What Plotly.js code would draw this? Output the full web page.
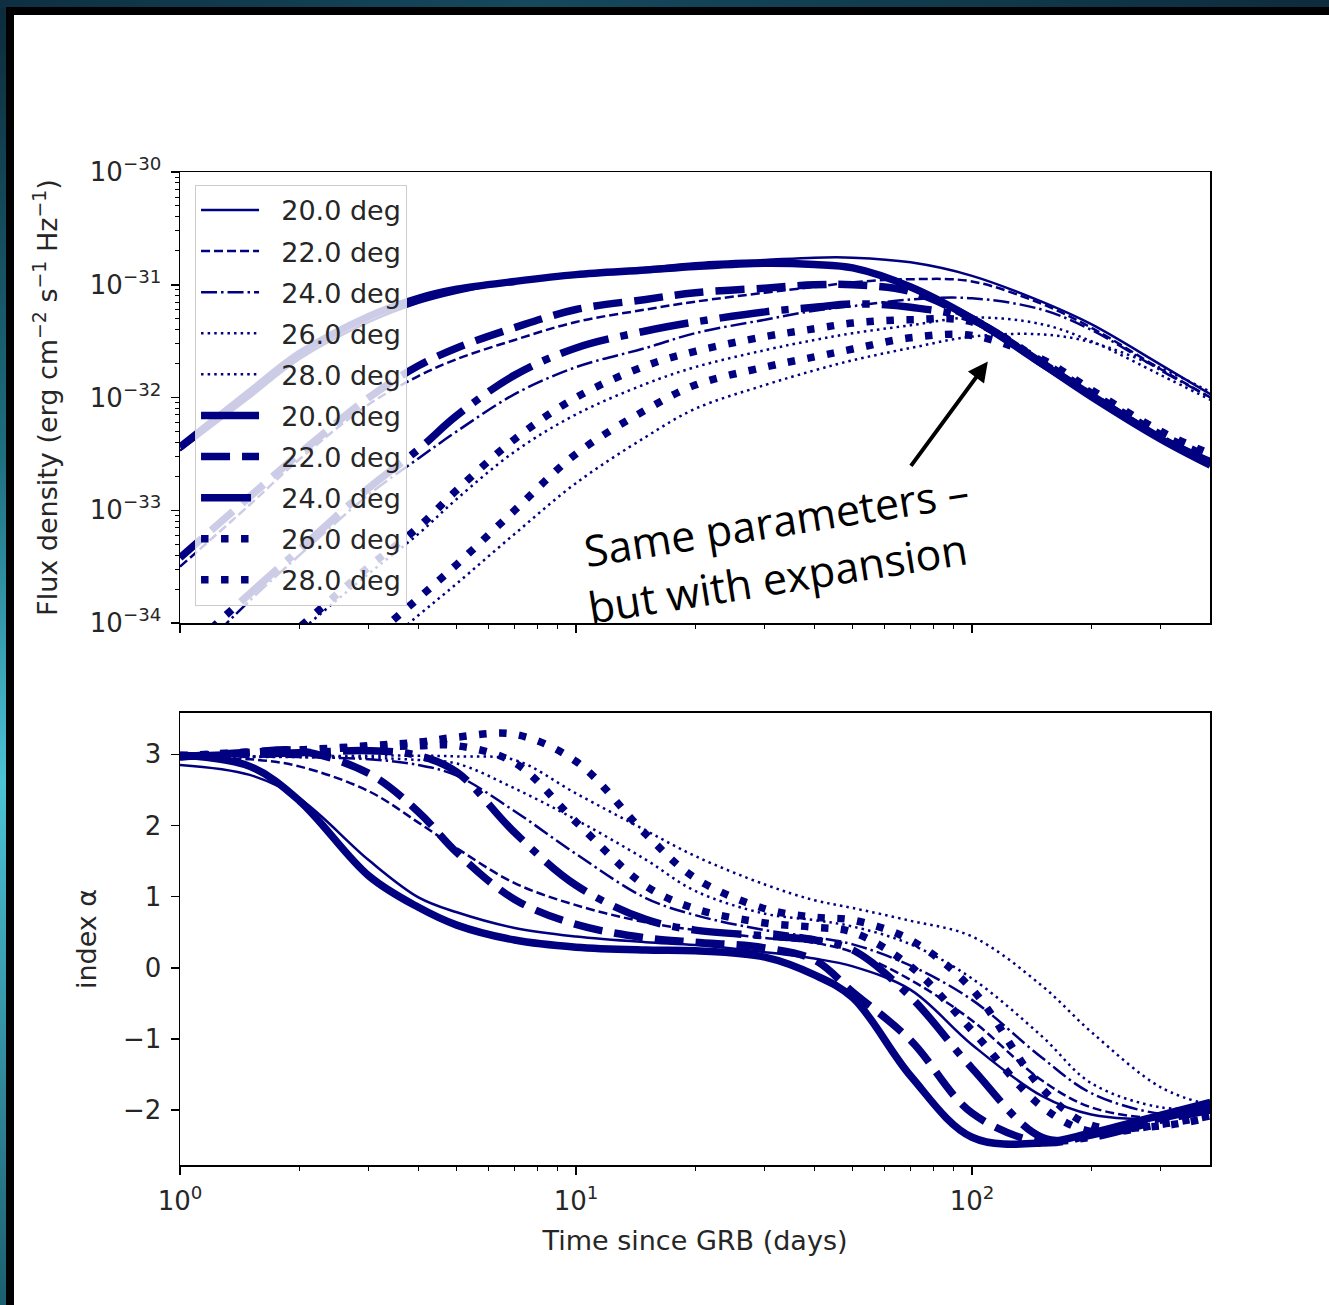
<!DOCTYPE html>
<html>
<head>
<meta charset="utf-8">
<script src="https://cdn.plot.ly/plotly-3.0.1.min.js"></script>
<style>
  html, body { margin: 0; padding: 0; width: 1329px; height: 1305px; overflow: hidden; }
  body { background: linear-gradient(180deg, #0c2a3a 0%, #1d6f80 35%, #4cc3d6 60%, #1b5f70 100%); position: relative; }
  #topstrip { position: absolute; left: 0; top: 0; width: 1329px; height: 8px; background: linear-gradient(90deg, #0e2f42, #15495e 40%, #0d2c3d 100%); }
  #frame { position: absolute; left: 6px; top: 7px; width: 1323px; height: 1298px; background: #000; }
  #chart { position: absolute; left: 14px; top: 15px; width: 1315px; height: 1290px; background: #fff; }
</style>
</head>
<body>
<div id="topstrip"></div>
<div id="frame"></div>
<div id="chart"></div>
<script>
// ---------------- data ----------------
const timeDays = [1, 1.5, 2, 3, 4, 5, 7, 10, 15, 20, 30, 40, 50, 70, 100, 150, 200, 300, 400];
const angleLabels = ['20.0 deg', '22.0 deg', '24.0 deg', '26.0 deg', '28.0 deg'];

// flux density (erg cm^-2 s^-1 Hz^-1), thin lines (no expansion)
const fluxThin20 = [3.39e-33, 1.00e-32, 2.19e-32, 4.68e-32, 6.92e-32, 8.51e-32, 1.07e-31, 1.26e-31, 1.41e-31, 1.55e-31, 1.66e-31, 1.74e-31, 1.74e-31, 1.58e-31, 1.20e-31, 7.08e-32, 4.47e-32, 1.95e-32, 1.07e-32];
const fluxThin22 = [3.16e-34, 1.12e-33, 2.82e-33, 8.71e-33, 1.55e-32, 2.19e-32, 3.24e-32, 4.68e-32, 6.03e-32, 7.08e-32, 8.51e-32, 9.55e-32, 1.05e-31, 1.12e-31, 1.07e-31, 6.76e-32, 4.17e-32, 1.78e-32, 1.00e-32];
const fluxThin24 = [3.80e-35, 1.58e-34, 3.98e-34, 1.38e-33, 2.88e-33, 5.01e-33, 1.07e-32, 1.86e-32, 2.75e-32, 3.72e-32, 4.90e-32, 5.89e-32, 6.46e-32, 7.41e-32, 7.59e-32, 6.03e-32, 3.98e-32, 1.74e-32, 1.00e-32];
const fluxThin26 = [1.00e-35, 3.39e-35, 8.32e-35, 2.75e-34, 6.17e-34, 1.26e-33, 3.31e-33, 7.08e-33, 1.32e-32, 1.86e-32, 2.63e-32, 3.24e-32, 3.72e-32, 4.37e-32, 5.13e-32, 4.47e-32, 3.16e-32, 1.58e-32, 9.55e-33];
const fluxThin28 = [1.95e-36, 6.46e-36, 1.51e-35, 5.01e-35, 1.17e-34, 2.24e-34, 6.17e-34, 1.74e-33, 4.47e-33, 7.94e-33, 1.29e-32, 1.74e-32, 2.14e-32, 2.75e-32, 3.47e-32, 3.63e-32, 3.09e-32, 1.82e-32, 1.12e-32];
// thick lines (with expansion)
const fluxThick20 = [3.63e-33, 1.12e-32, 2.45e-32, 5.25e-32, 7.59e-32, 9.12e-32, 1.07e-31, 1.23e-31, 1.35e-31, 1.45e-31, 1.55e-31, 1.51e-31, 1.41e-31, 9.55e-32, 5.01e-32, 2.00e-32, 1.02e-32, 4.27e-33, 2.51e-33];
const fluxThick22 = [3.80e-34, 1.32e-33, 3.16e-33, 1.00e-32, 1.91e-32, 2.75e-32, 4.17e-32, 6.03e-32, 7.41e-32, 8.51e-32, 9.33e-32, 1.00e-31, 1.00e-31, 8.71e-32, 5.01e-32, 2.04e-32, 1.05e-32, 4.37e-33, 2.63e-33];
const fluxThick24 = [5.01e-35, 1.82e-34, 4.47e-34, 1.58e-33, 3.47e-33, 6.92e-33, 1.58e-32, 2.75e-32, 3.89e-32, 4.68e-32, 5.75e-32, 6.31e-32, 6.76e-32, 6.31e-32, 4.90e-32, 2.00e-32, 1.05e-32, 4.37e-33, 2.69e-33];
const fluxThick26 = [1.12e-35, 3.80e-35, 9.12e-35, 3.16e-34, 7.08e-34, 1.51e-33, 4.27e-33, 1.00e-32, 1.91e-32, 2.57e-32, 3.47e-32, 4.07e-32, 4.57e-32, 4.90e-32, 4.68e-32, 2.09e-32, 1.10e-32, 4.68e-33, 2.95e-33];
const fluxThick28 = [2.63e-36, 8.71e-36, 2.00e-35, 6.92e-35, 1.66e-34, 3.31e-34, 1.00e-33, 3.16e-33, 7.76e-33, 1.29e-32, 1.86e-32, 2.29e-32, 2.69e-32, 3.39e-32, 3.55e-32, 2.19e-32, 1.17e-32, 5.01e-33, 3.16e-33];

// temporal index alpha
const alphaThin20 = [2.85, 2.71, 2.38, 1.51, 0.99, 0.78, 0.56, 0.44, 0.36, 0.32, 0.22, 0.13, 0.02, -0.31, -1.08, -1.80, -2.06, -2.10, -1.90];
const alphaThin22 = [2.94, 2.93, 2.83, 2.48, 2.04, 1.68, 1.19, 0.88, 0.64, 0.53, 0.42, 0.35, 0.22, -0.17, -0.74, -1.58, -1.96, -2.11, -2.00];
const alphaThin24 = [2.97, 2.97, 2.96, 2.93, 2.85, 2.70, 2.20, 1.60, 0.98, 0.74, 0.53, 0.43, 0.33, 0.03, -0.45, -1.26, -1.76, -2.05, -2.02];
const alphaThin26 = [2.96, 2.96, 2.96, 2.95, 2.92, 2.87, 2.52, 2.08, 1.52, 1.08, 0.76, 0.67, 0.58, 0.33, -0.15, -0.96, -1.62, -1.96, -1.96];
const alphaThin28 = [2.96, 2.97, 2.97, 2.98, 2.98, 2.97, 2.92, 2.45, 1.93, 1.57, 1.17, 0.95, 0.84, 0.66, 0.44, -0.25, -0.90, -1.68, -1.93];
const alphaThick20 = [2.99, 2.83, 2.35, 1.29, 0.85, 0.60, 0.39, 0.29, 0.25, 0.24, 0.15, -0.10, -0.42, -1.52, -2.38, -2.46, -2.32, -2.07, -1.89];
const alphaThick22 = [2.96, 3.03, 3.05, 2.73, 2.19, 1.62, 0.96, 0.61, 0.42, 0.36, 0.28, 0.11, -0.34, -1.02, -2.04, -2.45, -2.35, -2.11, -1.97];
const alphaThick24 = [2.97, 3.00, 3.02, 3.05, 2.98, 2.75, 1.90, 1.16, 0.68, 0.53, 0.45, 0.39, 0.25, -0.41, -1.41, -2.38, -2.38, -2.14, -2.00];
const alphaThick26 = [2.97, 3.03, 3.06, 3.10, 3.12, 3.12, 2.88, 2.05, 1.15, 0.83, 0.63, 0.57, 0.50, 0.02, -0.88, -1.95, -2.30, -2.20, -2.08];
const alphaThick28 = [2.98, 3.03, 3.06, 3.12, 3.17, 3.24, 3.28, 2.90, 1.88, 1.26, 0.83, 0.71, 0.67, 0.39, -0.30, -1.69, -2.21, -2.22, -2.10];

// tick labels
const xTickVals = [1, 10, 100];
const xTickText = ['10<sup>0</sup>', '10<sup>1</sup>', '10<sup>2</sup>'];
const xMinorVals = [2, 3, 4, 5, 6, 7, 8, 9, 20, 30, 40, 50, 60, 70, 80, 90, 200, 300, 400];
const yTopTickVals = [1e-34, 1e-33, 1e-32, 1e-31, 1e-30];
const yTopTickText = ['10<sup>\u221234</sup>', '10<sup>\u221233</sup>', '10<sup>\u221232</sup>', '10<sup>\u221231</sup>', '10<sup>\u221230</sup>'];
const yTopMinorVals = [2e-34,3e-34,4e-34,5e-34,6e-34,7e-34,8e-34,9e-34, 2e-33,3e-33,4e-33,5e-33,6e-33,7e-33,8e-33,9e-33, 2e-32,3e-32,4e-32,5e-32,6e-32,7e-32,8e-32,9e-32, 2e-31,3e-31,4e-31,5e-31,6e-31,7e-31,8e-31,9e-31];
const yBotTickVals = [-2, -1, 0, 1, 2, 3];

// ---------------- styling ----------------
const NAVY = '#000080';
const THIN = 2.5, THICK = 7.5;
const thinDash = ['solid', '9px,4px', '16px,4px,2.5px,4px', '2.5px,4.1px', '2.5px,4.1px'];
const thickDash = ['solid', '29px,12px', '50px,12px,7.5px,12px', '7.5px,12.5px', '7.5px,12.5px'];

const fluxThin = [fluxThin20, fluxThin22, fluxThin24, fluxThin26, fluxThin28];
const fluxThick = [fluxThick20, fluxThick22, fluxThick24, fluxThick26, fluxThick28];
const alphaThin = [alphaThin20, alphaThin22, alphaThin24, alphaThin26, alphaThin28];
const alphaThick = [alphaThick20, alphaThick22, alphaThick24, alphaThick26, alphaThick28];

const traces = [];
let groupIndex = 0;
function addLine(ySeries, yaxis, xaxis, width, dash, name, show) {
  const tr = {
    x: timeDays, y: ySeries, xaxis: xaxis, yaxis: yaxis,
    type: 'scatter', mode: 'lines', name: '\u00a0\u00a0' + name, showlegend: show,
    line: { color: NAVY, width: width, dash: dash, shape: 'spline', smoothing: 1 }
  };
  if (show) { tr.legendgroup = 'g' + (groupIndex++); }
  traces.push(tr);
}
for (let i = 0; i < 5; i++) addLine(fluxThin[i], 'y', 'x', THIN, thinDash[i], angleLabels[i], true);
for (let i = 0; i < 5; i++) addLine(fluxThick[i], 'y', 'x', THICK, thickDash[i], angleLabels[i], true);
for (let i = 0; i < 5; i++) addLine(alphaThin[i], 'y2', 'x2', THIN, thinDash[i], angleLabels[i], false);
for (let i = 0; i < 5; i++) addLine(alphaThick[i], 'y2', 'x2', THICK, thickDash[i], angleLabels[i], false);

const FONT = 'DejaVu Sans, sans-serif';
const TXT = '#262626';
const axisCommon = {
  showline: true, linecolor: '#000', linewidth: 1.5, mirror: true,
  ticks: 'outside', ticklen: 8, tickwidth: 1.5, tickcolor: '#000',
  showgrid: false, zeroline: false,
  tickfont: { family: FONT, size: 26, color: TXT }
};
const minorTicks = (vals) => ({ tickmode: 'array', tickvals: vals, ticks: 'outside', ticklen: 4, tickwidth: 1, tickcolor: '#000' });

const layout = {
  width: 1315, height: 1290,
  paper_bgcolor: '#fff', plot_bgcolor: '#fff',
  margin: { l: 166, r: 119, t: 157, b: 140 },
  font: { family: FONT, color: TXT },
  showlegend: true,
  legend: {
    x: 0.0146, y: 0.987, xanchor: 'left', yanchor: 'top',
    bgcolor: 'rgba(255,255,255,0.8)', bordercolor: '#cccccc', borderwidth: 1,
    font: { family: FONT, size: 27, color: TXT },
    itemwidth: 58, tracegroupgap: 3, traceorder: 'grouped'
  },
  xaxis: Object.assign({}, axisCommon, {
    type: 'log', range: [0, 2.601], anchor: 'y',
    tickmode: 'array', tickvals: xTickVals, ticktext: xTickText, showticklabels: false,
    minor: minorTicks(xMinorVals)
  }),
  yaxis: Object.assign({}, axisCommon, {
    type: 'log', range: [-34, -30], domain: [0.5458, 1], anchor: 'x',
    tickmode: 'array', tickvals: yTopTickVals, ticktext: yTopTickText, ticklabelstandoff: 4,
    minor: minorTicks(yTopMinorVals),
    title: { text: 'Flux density (erg cm<sup>\u22122</sup> s<sup>\u22121</sup> Hz<sup>\u22121</sup>)', font: { family: FONT, size: 27, color: TXT }, standoff: 24 }
  }),
  xaxis2: Object.assign({}, axisCommon, {
    type: 'log', range: [0, 2.601], anchor: 'y2',
    tickmode: 'array', tickvals: xTickVals, ticktext: xTickText, ticklabelstandoff: 4,
    minor: minorTicks(xMinorVals),
    title: { text: 'Time since GRB (days)', font: { family: FONT, size: 27, color: TXT }, standoff: 16 }
  }),
  yaxis2: Object.assign({}, axisCommon, {
    range: [-2.77, 3.58], domain: [0, 0.4552], anchor: 'x2',
    tickmode: 'array', tickvals: yBotTickVals, ticklabelstandoff: 4,
    title: { text: 'index \u03b1', font: { family: FONT, size: 27, color: TXT }, standoff: 18 }
  }),
  annotations: [
    { xref: 'x', yref: 'y', x: 2.04, y: -31.68, ax: -78, ay: 106, text: '',
      showarrow: true, arrowhead: 2, arrowsize: 1, arrowwidth: 4, arrowcolor: '#000' },
    { xref: 'x', yref: 'y', x: 1.506, y: -33.09, text: 'Same parameters \u2013', showarrow: false,
      textangle: -9, font: { family: 'Open Sans, sans-serif', size: 43, color: '#000' } },
    { xref: 'x', yref: 'y', x: 1.51, y: -33.60, text: 'but with expansion', showarrow: false,
      textangle: -9, font: { family: 'Open Sans, sans-serif', size: 43, color: '#000' } }
  ]
};

Plotly.newPlot('chart', traces, layout, { displayModeBar: false, staticPlot: true });
</script>
</body>
</html>
